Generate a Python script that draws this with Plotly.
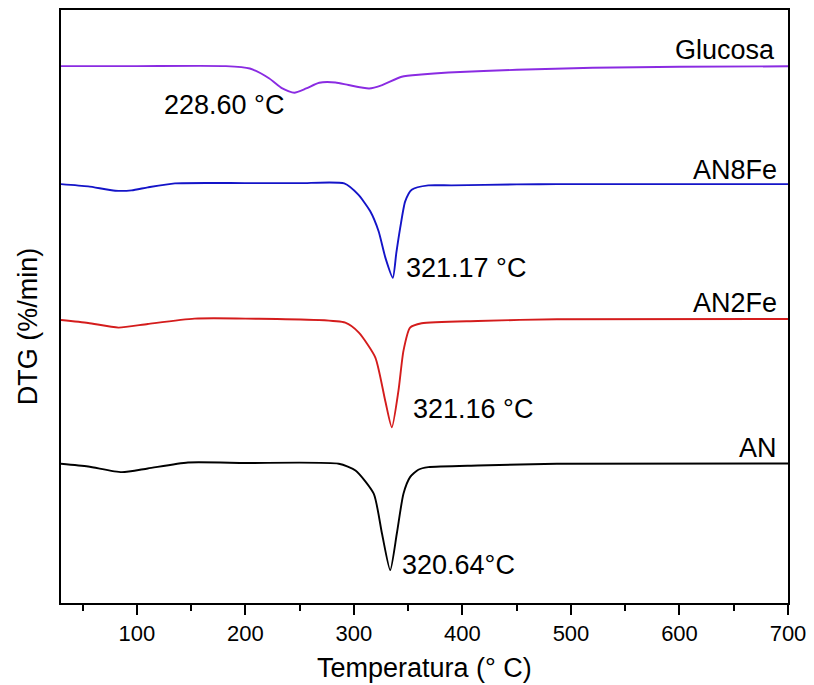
import plotly.graph_objects as go

# Temperature (°C) and DTG (arbitrary offset units, curves stacked)
glu_T = [30, 100, 182, 204, 222, 234, 245, 256, 268, 283, 295, 314, 326, 344, 362, 387, 450, 520, 600, 700]
glu_v = [538.7, 538.7, 538.7, 536.3, 526.3, 516.3, 512.0, 516.3, 522.0, 522.3, 519.7, 516.3, 519.7, 528.0, 530.3, 532.3, 535.0, 537.0, 538.0, 538.5]

an8_T = [30, 55, 80, 95, 110, 135, 200, 250, 291, 304, 315, 322.7, 329, 335.8, 339, 342.6, 347.2, 353.2, 368.5, 390, 450, 487, 700]
an8_v = [420.3, 418.0, 413.7, 414.0, 417.0, 421.0, 421.3, 421.3, 421.0, 409.7, 393.0, 373.0, 346.3, 326.3, 351.0, 376.3, 403.0, 414.7, 419.0, 419.0, 420.0, 420.3, 420.3]

an2_T = [30, 55, 83, 110, 153, 200, 292, 304.5, 319.7, 328.8, 334.9, 341, 345.6, 351.7, 362.4, 414, 487, 700]
an2_v = [284.0, 281.0, 276.3, 280.0, 285.3, 285.3, 281.3, 271.3, 246.3, 203.0, 176.3, 213.0, 253.0, 276.3, 280.7, 283.0, 284.7, 285.0]

an_T = [30, 55, 86, 110, 147, 200, 286, 301.4, 318.2, 325.8, 333.4, 339.5, 345.6, 351.7, 359.3, 368.5, 414, 487, 700]
an_v = [139.7, 137.0, 131.3, 135.0, 141.0, 140.5, 139.7, 133.0, 109.7, 69.7, 33.0, 69.7, 109.7, 126.3, 133.7, 136.3, 138.0, 139.7, 140.0]

series_names = ["Glucosa", "AN8Fe", "AN2Fe", "AN"]
series_colors = ["#8a2be2", "#1414c8", "#d41c1c", "#000000"]
peak_labels = ["228.60 °C", "321.17 °C", "321.16 °C", "320.64°C"]
x_ticks = [100, 200, 300, 400, 500, 600, 700]

FONT = "Liberation Sans, Arial, sans-serif"
LBL = 27

fig = go.Figure()
for T, v, name, col in zip([glu_T, an8_T, an2_T, an_T], [glu_v, an8_v, an2_v, an_v], series_names, series_colors):
    fig.add_trace(go.Scatter(x=T, y=v, mode="lines", name=name,
                             line=dict(color=col, width=1.9, shape="spline", smoothing=0.6),
                             showlegend=False))

# series names (right aligned)
name_pos = [(0.985, 0.933), (0.987, 0.731), (0.987, 0.506), (0.987, 0.262)]
for name, (px, py) in zip(series_names, name_pos):
    fig.add_annotation(x=px, y=py, xref="paper", yref="paper", text=name, showarrow=False,
                       xanchor="right", yanchor="middle", font=dict(size=LBL, color="black", family=FONT))

peak_pos = [(0.1395, 0.840), (0.472, 0.565), (0.4815, 0.327), (0.466, 0.064)]
for lab, (px, py) in zip(peak_labels, peak_pos):
    fig.add_annotation(x=px, y=py, xref="paper", yref="paper", text=lab, showarrow=False,
                       xanchor="left", yanchor="middle", font=dict(size=LBL, color="black", family=FONT))

# axis titles
fig.add_annotation(x=0.5, y=-0.109, xref="paper", yref="paper", text="Temperatura (° C)", showarrow=False,
                   xanchor="center", yanchor="middle", font=dict(size=LBL, color="black", family=FONT))
fig.add_annotation(x=-0.045, y=0.467, xref="paper", yref="paper", text="DTG (%/min)",
                   showarrow=False, textangle=-90, xanchor="center", yanchor="middle",
                   font=dict(size=LBL, color="black", family=FONT))

fig.update_layout(
    width=814, height=685,
    margin=dict(l=61, r=22, t=8, b=82),
    plot_bgcolor="white", paper_bgcolor="white",
    font=dict(family=FONT, color="black"),
)
fig.update_xaxes(range=[30, 700], tickvals=x_ticks, ticks="outside", ticklen=10, tickwidth=1.5,
                 tickcolor="black", showline=True, linecolor="black", linewidth=2, mirror=True,
                 showgrid=False, zeroline=False, ticklabeloverflow="allow",
                 tickfont=dict(size=22, family=FONT, color="black"),
                 minor=dict(dtick=50, tick0=0, ticks="outside", ticklen=6, tickwidth=1.5, tickcolor="black"))
fig.update_yaxes(range=[0, 595], showticklabels=False, ticks="", showline=True, linecolor="black",
                 linewidth=2, mirror=True, showgrid=False, zeroline=False)

# remove the default page margin so the figure fills the window exactly; hide the mode bar
fig.write_html("out.html", config={"displayModeBar": False},
               post_script="document.body.style.margin='0px';document.body.style.overflow='hidden';")
